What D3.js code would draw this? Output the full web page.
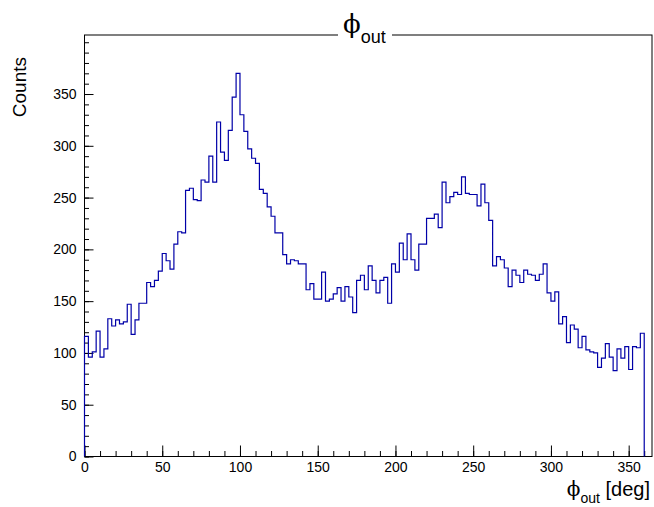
<!DOCTYPE html>
<html>
<head>
<meta charset="utf-8">
<script src="https://cdn.jsdelivr.net/npm/d3@7"></script>
<style>
  body { margin: 0; background: #fff; }
  svg { font-family: "Liberation Sans", Arial, sans-serif; }
</style>
</head>
<body>
<svg width="654" height="507"></svg>
<script>
// histogram of phi_out, 144 bins of 2.5 deg from 0 to 360
var binWidth = 2.5;
var binStart = 0;
var counts = [
	116, 96, 101, 121, 96, 104, 133, 126, 132, 128,
	130, 147, 118, 132, 148, 148, 168, 164, 170, 179,
	196, 189, 181, 205, 217, 216, 257, 259, 248, 247,
	267, 265, 290, 265, 323, 294, 286, 315, 347, 370,
	330, 314, 297, 288, 283, 258, 254, 241, 232, 216,
	216, 195, 186, 190, 189, 186, 186, 161, 167, 152,
	152, 178, 150, 152, 157, 163, 150, 164, 154, 139,
	170, 175, 161, 184, 170, 158, 170, 173, 148, 186,
	178, 206, 190, 215, 190, 180, 205, 205, 230, 230,
	234, 221, 265, 245, 251, 255, 253, 270, 254, 253,
	253, 242, 263, 245, 228, 184, 193, 190, 182, 164,
	180, 175, 168, 180, 176, 175, 170, 176, 186, 158,
	150, 159, 128, 135, 110, 127, 123, 105, 116, 103,
	101, 100, 86, 95, 109, 96, 83, 104, 95, 106,
	84, 106, 105, 119
];
var xMajor = [0, 50, 100, 150, 200, 250, 300, 350];
var yMajor = [0, 50, 100, 150, 200, 250, 300, 350];

var svg = d3.select("svg"),
	frameLeft = 84.5,
	frameRight = 652,
	frameTop = 35,
	frameBottom = 456.5;

var x = d3.scaleLinear().domain([0, 365]).range([frameLeft, frameRight]);
var y = d3.scaleLinear().domain([0, 407]).range([frameBottom, frameTop]);

// frame
svg.append("rect")
	.attr("x", frameLeft)
	.attr("y", frameTop)
	.attr("width", frameRight - frameLeft)
	.attr("height", frameBottom - frameTop)
	.attr("fill", "none")
	.attr("stroke", "#000")
	.attr("stroke-width", 1);

// x axis, ticks inside the frame
var xMinor = d3.range(0, 365, 10);
svg.append("g")
	.attr("transform", "translate(0," + frameBottom + ")")
	.call(d3.axisBottom(x).tickValues(xMinor).tickSize(-5.5).tickFormat(""))
	.call(g => g.select(".domain").remove());
svg.append("g")
	.attr("transform", "translate(0," + frameBottom + ")")
	.call(d3.axisBottom(x).tickValues(xMajor).tickSize(-11).tickPadding(6))
	.call(g => g.select(".domain").remove());

// y axis
var yMinor = d3.range(0, 407, 10);
svg.append("g")
	.attr("transform", "translate(" + frameLeft + ",0)")
	.call(d3.axisLeft(y).tickValues(yMinor).tickSize(-4.5).tickFormat(""))
	.call(g => g.select(".domain").remove());
svg.append("g")
	.attr("transform", "translate(" + frameLeft + ",0)")
	.call(d3.axisLeft(y).tickValues(yMajor).tickSize(-9).tickPadding(8))
	.call(g => g.select(".domain").remove());

svg.selectAll(".tick line").attr("stroke", "#000");
svg.selectAll(".tick text")
	.attr("font-size", 14)
	.attr("fill", "#000")
	.attr("font-family", "Liberation Sans, Arial, sans-serif");

// histogram outline as steps
var pts = [[binStart, 0]];
counts.forEach((c, i) => {
	pts.push([binStart + i * binWidth, c]);
	pts.push([binStart + (i + 1) * binWidth, c]);
});
pts.push([binStart + counts.length * binWidth, 0]);

var line = d3.line().x(d => x(d[0])).y(d => y(d[1]));
svg.append("path")
	.datum(pts)
	.attr("d", line)
	.attr("fill", "none")
	.attr("stroke", "#0000a8")
	.attr("stroke-width", 1.2);

// title, on a white box that hides the frame line like the ROOT title pave
svg.append("rect")
	.attr("x", 338)
	.attr("y", 6)
	.attr("width", 54)
	.attr("height", 42)
	.attr("fill", "#fff");
var title = svg.append("text")
	.attr("x", 343)
	.attr("y", 33)
	.attr("fill", "#000");
title.append("tspan")
	.attr("font-family", "DejaVu Serif, serif")
	.attr("font-size", 26)
	.text("\u03d5");
title.append("tspan")
	.attr("font-size", 18)
	.attr("dy", 10)
	.text("out");

// x axis title
var xt = svg.append("text")
	.attr("x", 650)
	.attr("y", 496)
	.attr("text-anchor", "end")
	.attr("fill", "#000");
xt.append("tspan")
	.attr("font-family", "DejaVu Serif, serif")
	.attr("font-size", 20)
	.text("\u03d5");
xt.append("tspan")
	.attr("font-size", 14)
	.attr("dy", 7)
	.text("out");
xt.append("tspan")
	.attr("font-size", 20)
	.attr("dy", -7)
	.text(" [deg]");

// y axis title
svg.append("text")
	.attr("transform", "translate(26,57) rotate(-90)")
	.attr("text-anchor", "end")
	.attr("font-size", 19)
	.attr("fill", "#000")
	.text("Counts");
</script>
</body>
</html>
